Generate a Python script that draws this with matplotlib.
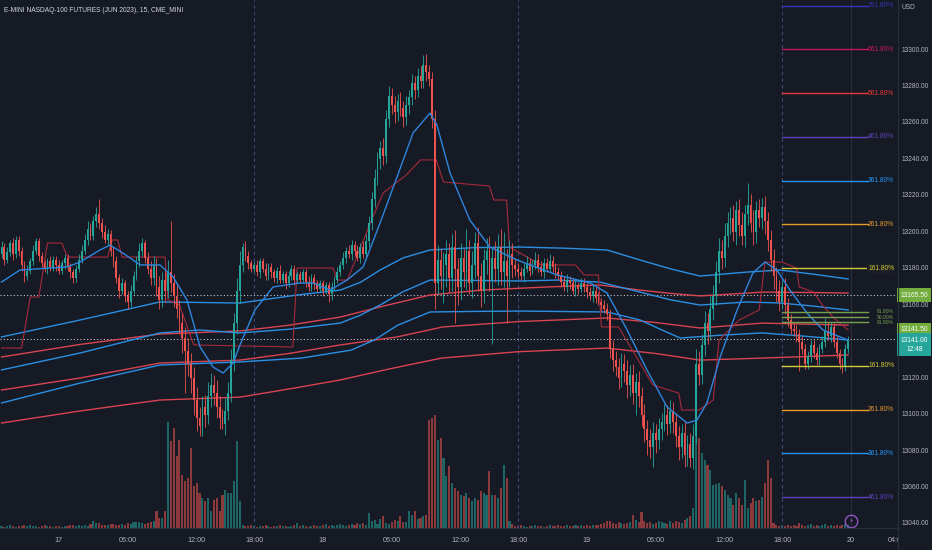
import numpy as np
import matplotlib
matplotlib.use("Agg")
import matplotlib.pyplot as plt
from matplotlib import transforms
from matplotlib.lines import Line2D

BG = "#161a25"
TXT = "#b2b5be"
UP = "#26a69a"
DN = "#ef5350"
BLUE = "#2b8fe3"
RED = "#d84452"
plt.rcParams['font.family'] = ['Liberation Sans', 'DejaVu Sans']

title = "E-MINI NASDAQ-100 FUTURES (JUN 2023), 15, CME_MINI"

# ---- 15 min bars (bar index 0 = first visible bar) ----
first_open = 13188
closes = [
    13192, 13185, 13189, 13194, 13188, 13196, 13190,
    13182, 13176, 13179, 13184,
    13190, 13195, 13187, 13183,
    13180, 13184, 13181, 13185, 13182, 13179, 13183, 13186, 13181, 13178,
    13175, 13180, 13185,
    13190, 13196, 13202, 13198, 13206, 13210, 13205,
    13200, 13196, 13199, 13190,
    13184, 13175, 13168, 13172,
    13165, 13162, 13168, 13176,
    13184, 13190, 13194, 13186, 13180,
    13175, 13182, 13170, 13163, 13174, 13168, 13178,
    13172, 13165, 13158, 13150,
    13142, 13135, 13128, 13120,
    13108, 13098, 13094,
    13104, 13100, 13110, 13116, 13112, 13104,
    13098, 13095, 13102, 13112,
    13130, 13150, 13168, 13182,
    13192, 13187, 13183, 13180,
    13182, 13178, 13184, 13180, 13176, 13181, 13178,
    13175, 13179, 13174, 13177, 13172, 13176, 13180, 13174, 13177,
    13174, 13178, 13173, 13170, 13175, 13172, 13169,
    13172, 13168, 13171, 13166, 13170, 13174,
    13178, 13182, 13186, 13190,
    13188, 13193, 13190, 13186, 13192, 13188, 13195,
    13205, 13218, 13230, 13240,
    13246, 13242, 13262, 13275,
    13270, 13266, 13272, 13268, 13263, 13270, 13274,
    13282, 13278, 13286, 13283,
    13292, 13288, 13284, 13262,
    13172, 13185, 13176, 13182,
    13188, 13175, 13192, 13180, 13170, 13186, 13178, 13190, 13172, 13182, 13194, 13176, 13168,
    13185, 13190, 13174, 13186, 13180, 13192, 13178, 13184, 13176, 13188, 13182, 13180, 13178,
    13176, 13180, 13183, 13179, 13182, 13185, 13181, 13178, 13183, 13180, 13184, 13181, 13178, 13176,
    13173, 13170, 13174, 13172, 13168, 13171, 13169, 13172, 13170, 13167, 13165, 13168, 13164, 13162, 13160, 13158, 13155,
    13136, 13130, 13126,
    13120, 13128, 13124, 13116, 13122, 13112, 13118, 13110,
    13100, 13092, 13086, 13082, 13090, 13086,
    13092, 13096, 13100, 13095, 13102, 13096,
    13088, 13082, 13090, 13078, 13084, 13076, 13088,
    13128, 13122,
    13138, 13150, 13146, 13158, 13165,
    13178, 13190, 13186, 13198, 13205,
    13208, 13200, 13212, 13204, 13198, 13210, 13215, 13205, 13200, 13212, 13208,
    13214, 13206, 13196,
    13185, 13176, 13168, 13162,
    13170, 13160, 13152, 13147,
    13146, 13144, 13140,
    13136, 13128, 13132, 13138, 13134, 13130, 13136,
    13140, 13146, 13143, 13148, 13140, 13134, 13128, 13126, 13136, 13141,
]
wick_up = [
    3, 2, 3, 2, 3, 2, 2,
    2, 2, 3, 2,
    3, 2, 2, 2,
    2, 2, 3, 2, 2, 3, 2, 2, 2, 2,
    2, 2, 3,
    3, 3, 4, 3, 3, 4, 8,
    3, 4, 3, 2,
    2, 3, 2, 3,
    2, 3, 3, 3,
    3, 4, 3, 2, 3,
    4, 5, 4, 6, 4, 5, 7,
    28, 5, 6, 5,
    6, 6, 7, 6,
    6, 7, 6,
    6, 7, 8, 7, 6, 7,
    6, 5, 7, 6,
    6, 6, 7, 8,
    2, 3, 3, 2,
    2, 3, 2, 2, 3, 2, 2,
    2, 2, 3, 2, 2, 3, 2, 2, 2,
    2, 2, 2, 3, 2, 2, 2,
    2, 2, 2, 2, 3, 2,
    3, 2, 3, 2,
    3, 3, 2, 3, 2, 3, 4,
    4, 4, 5, 4,
    4, 6, 5, 5,
    4, 5, 4, 5, 4, 5, 4,
    5, 4, 4, 5,
    5, 6, 4, 4,
    5, 8, 6, 7,
    8, 6, 7, 9, 6, 8, 5, 12, 6, 8, 6, 9, 7,
    6, 7, 8, 6, 9, 7, 10, 16, 7, 8, 6, 4, 3,
    3, 3, 4, 3, 3, 4, 3, 3, 3, 3, 4, 3, 2, 3,
    3, 3, 3, 2, 3, 3, 2, 3, 3, 2, 3, 3, 2, 3, 2, 3, 3,
    3, 5, 5,
    5, 6, 5, 6, 5, 6, 5, 6,
    5, 6, 5, 6, 6, 5,
    6, 5, 6, 5, 6, 5,
    5, 6, 5, 6, 5, 6, 7,
    8, 7,
    6, 7, 6, 7, 6,
    6, 7, 6, 7, 6,
    6, 7, 5, 6, 7, 5, 12, 6, 7, 5, 6,
    5, 6, 5,
    5, 6, 5, 6,
    4, 5, 4, 3,
    3, 3, 3,
    3, 3, 3, 3, 3, 3, 3,
    3, 7, 5, 3, 2, 3, 2, 3, 3, 2,
]
wick_dn = [
    2, 3, 2, 2, 3, 2, 3,
    3, 3, 2, 2,
    2, 2, 3, 2,
    2, 3, 2, 2, 3, 2, 2, 3, 2, 3,
    3, 2, 2,
    2, 2, 3, 2, 2, 3, 3,
    3, 2, 3, 3,
    3, 3, 4, 2,
    3, 4, 3, 2,
    2, 3, 3, 3, 3,
    4, 4, 5, 5, 4, 6, 4,
    5, 6, 5, 6,
    8, 23, 7, 8,
    8, 7, 6,
    6, 7, 5, 6, 7, 6,
    6, 3, 6, 5,
    5, 6, 6, 7,
    4, 3, 3, 2,
    2, 2, 3, 2, 2, 2, 3,
    2, 3, 2, 2, 3, 2, 2, 3, 2,
    2, 2, 3, 2, 2, 3, 2,
    2, 3, 2, 4, 3, 2,
    2, 2, 2, 3,
    2, 3, 3, 2, 3, 2, 2,
    3, 4, 4, 4,
    5, 5, 4, 4,
    5, 6, 5, 4, 5, 4, 5,
    4, 5, 4, 4,
    4, 5, 4, 5,
    14, 6, 7, 15,
    12, 8, 7, 30, 10, 7, 8, 9, 6, 8, 7, 8, 9,
    7, 8, 6, 35, 7, 9, 7, 8, 26, 6, 7, 4, 3,
    2, 3, 2, 3, 2, 2, 3, 2, 3, 2, 2, 3, 3, 2,
    3, 2, 3, 3, 2, 3, 3, 2, 3, 3, 2, 3, 3, 2, 3, 2, 3,
    5, 6, 5,
    6, 5, 6, 7, 6, 6, 12, 6,
    6, 7, 8, 6, 11, 7,
    5, 6, 5, 6, 5, 6,
    6, 7, 6, 7, 6, 5, 6,
    4, 6,
    5, 6, 7, 5, 6,
    5, 6, 6, 5, 6,
    6, 5, 7, 6, 5, 6, 6, 5, 7, 6, 5,
    6, 7, 6,
    6, 7, 6, 5,
    4, 5, 4, 3,
    3, 4, 16,
    3, 3, 3, 3, 3, 3, 3,
    2, 3, 2, 3, 3, 3, 3, 3, 2, 2,
]
volume = [
    200, 100, 200, 300, 200, 100, 200, 200, 300, 200, 300, 200, 200, 100, 200, 300,
    200, 200, 100, 200, 200, 100, 200, 200, 300, 300, 200, 300, 200, 300, 200,
    400, 700, 500, 500, 300, 300, 300, 400, 400, 300, 300, 400, 300, 500, 400, 600,
    600, 600, 500, 400, 500, 600, 700,
    1700, 1000, 1000, 1700,
    10600, 8700, 10000, 7200, 8800, 5300, 4700, 5000, 8000, 4200, 4500, 3500, 3000,
    2700, 3000, 1700, 2800, 3000, 1700, 3300, 3800, 3500, 3500, 4700, 8700, 2700, 300, 200,
    200, 300, 200, 100, 200, 200, 300, 200, 100, 200, 200, 300, 200, 200, 100, 200,
    300, 500, 200, 300, 200, 100, 200, 300, 200, 200, 300, 400, 200, 300, 200, 300,
    400, 300, 200, 300, 400, 300, 500, 400, 500, 300,
    1500, 700, 800, 400, 900, 1200, 500, 400, 600, 800, 700, 1200, 600, 600, 1700,
    1300, 1700, 900, 1000, 1200, 1300,
    10800, 11000, 11300, 8800, 9000, 7000, 5200, 6200, 4500, 4000, 3700, 3300, 3200,
    3500, 3000, 2700, 3000, 2800, 3700, 3500, 3300, 5700, 3300, 3300, 3000, 4000,
    6300, 5000, 700, 400,
    200, 200, 300, 200, 100, 200, 200, 300, 200, 200, 100, 200, 300, 200, 200, 300,
    200, 200, 300, 200, 200, 300, 200, 300, 200, 300, 200, 300, 300,
    300, 400, 500, 700, 700, 500, 400, 600, 500, 400, 500, 600, 1300, 800, 600, 1600,
    700, 500, 600, 400, 500, 700, 600, 500, 400, 700, 500, 700, 600, 500, 800, 1000,
    1200, 2000,
    12500, 9000, 7500, 6800, 6300, 5800, 4300, 4400, 4500, 4200, 3800, 3300, 3000,
    2300, 3500, 3000, 2300, 4800, 2000, 2500, 3000, 2700, 2800, 3100, 4500, 6800, 5000,
    500, 300, 200, 300, 200, 300, 200, 300, 200, 500, 300, 200, 300, 400, 200, 300,
    200, 300, 400, 200, 300, 200, 300, 200, 300, 400, 300,
]
assert len(closes) == len(wick_up) == len(wick_dn) == len(volume), (
    len(closes), len(wick_up), len(wick_dn), len(volume))

# ---- indicator lines (bar index, price) ----
ema_bar = [0, 6.4, 22.8, 27.4, 34.3, 37.8, 42.3, 48.3, 55.2, 59.8, 64.6, 69.2, 73.7, 77.2,
           80.7, 83.1, 88.3, 94.6, 104, 108.5, 114.5, 120.4, 126, 131.9, 137.8, 143.4,
           149.3, 151.7, 156.3, 163.2, 170.2, 179.6, 193.6, 205.1, 211, 218, 224.9, 231.9,
           238.9, 242.3, 245.8, 250.4, 256.3, 261.8, 266, 270.2, 274.7, 280.7, 286.2,
           292.2, 295]
ema_val = [13172.7, 13179.3, 13181.0, 13183.7, 13190.3, 13193.0, 13188.6, 13182.1, 13182.1,
           13175.5, 13162.9, 13137.1, 13126.1, 13122.8, 13128.3, 13138.2, 13157.4, 13170.0,
           13172.2, 13172.2, 13168.3, 13173.8, 13181.0, 13205.1, 13230.3, 13254.5, 13265.4,
           13258.9, 13232.5, 13206.7, 13191.9, 13184.8, 13176.6, 13172.2, 13166.7, 13146.4,
           13124.5, 13104.2, 13095.4, 13097.0, 13106.4, 13131.6, 13157.4, 13177.7, 13183.7,
           13179.3, 13168.3, 13155.7, 13146.4, 13142.6, 13140.9]

blue_a_bar = [0, 27.4, 55.2, 83.1, 103, 118, 125, 131.9, 140, 149.3, 165, 180.7, 196, 211,
              222.5, 233, 243.4, 259.8, 271.3, 283, 295]
blue_a_val = [13142.6, 13151.9, 13161.8, 13161.2, 13165.6, 13168.3, 13172.5, 13179.3, 13186.0,
              13190.3, 13191.6, 13191.9, 13191.3, 13190.3, 13184.8, 13180.0, 13176.0, 13178.2,
              13179.3, 13177.0, 13174.4]
blue_b_bar = [0, 27.4, 55.2, 69, 83.1, 100, 118, 125, 131.9, 140, 149.3, 165, 180.7, 193.6,
              208.5, 222.5, 233, 243.4, 259.8, 271.3, 283, 295]
blue_b_val = [13124.5, 13133.8, 13144.8, 13146.4, 13144.8, 13146.8, 13150.2, 13154.5, 13160.1,
              13167.5, 13173.8, 13173.6, 13173.3, 13173.8, 13172.7, 13167.2, 13163.0, 13160.1,
              13161.8, 13161.2, 13159.5, 13157.4]
blue_c_bar = [0, 27.4, 55.2, 83.1, 104.5, 121.9, 130, 138, 149.3, 165, 180.7, 211, 222.5,
              230, 236.5, 250, 265, 280, 295]
blue_c_val = [13106.4, 13117.3, 13127.2, 13128.9, 13131.0, 13135.4, 13141.0, 13149.0, 13156.3,
              13156.6, 13156.8, 13156.3, 13151.9, 13146.5, 13142.0, 13143.5, 13144.8, 13143.0,
              13140.9]
red_a_bar = [0, 27.4, 55.2, 83.1, 100, 118, 133, 149.3, 167.2, 190, 208.5, 222.5, 233,
             243.4, 255, 265, 280, 295]
red_a_val = [13131.6, 13138.5, 13144.2, 13145.9, 13149.0, 13153.5, 13159.5, 13165.6, 13168.3,
             13170.0, 13171.1, 13168.3, 13166.5, 13165.1, 13166.2, 13167.2, 13167.0, 13166.7]
red_b_bar = [0, 27.4, 55.2, 83.1, 100, 118, 137.8, 153.8, 180, 211, 228, 243.4, 265, 295]
red_b_val = [13113.5, 13120.1, 13128.3, 13129.9, 13133.5, 13138.2, 13142.6, 13148.1, 13151.0,
             13153.0, 13150.5, 13147.5, 13150.2, 13149.1]
red_c_bar = [0, 27.4, 55.2, 83.1, 100, 118, 135, 153.3, 180, 211, 228, 243.4, 265, 295]
red_c_val = [13095.4, 13102.0, 13108.0, 13109.6, 13114.0, 13119.0, 13125.0, 13131.0, 13134.5,
             13136.5, 13133.5, 13129.9, 13131.0, 13132.7]

step_bar = [0, 7, 10, 13, 16, 21, 23, 37, 38.5, 40.5, 42, 57, 58, 62, 67, 101.5, 103, 115.5,
            117, 120.5, 128.5, 133, 141, 146, 151.5, 154, 170, 171.5, 176, 177, 188, 200,
            203, 208, 209, 215, 227, 236, 237, 243, 248, 250, 257, 264, 266, 272, 277, 278,
            283, 286, 290, 295]
step_val = [13136.5, 13136.5, 13164.5, 13164.5, 13194.1, 13194.1, 13186.4, 13186.4, 13195.8,
            13195.8, 13186.4, 13186.4, 13162.9, 13160.1, 13138.2, 13137.1, 13180.4, 13180.4,
            13173.8, 13173.8, 13205.1, 13221.6, 13231.4, 13239.7, 13239.7, 13227.6, 13225.4,
            13217.7, 13217.7, 13191.9, 13182.1, 13182.1, 13176.6, 13176.6, 13148.1, 13148.1,
            13116.2, 13111.8, 13102.5, 13102.5, 13108.0, 13140.9, 13151.9, 13157.4, 13183.7,
            13183.7, 13180.4, 13170.0, 13167.2, 13160.1, 13153.0, 13146.4]

# ---- fib extension tools ----
fib_low, fib_high = 13141.5, 13165.5
fib_up_levels = [0.5, 0.618, 1.618, 2.618, 3.618, 4.618, 5.618, 6.618, 7.618]
fib_dn_levels = [0.618, 1.618, 2.618, 3.618, 4.618]
fib_colors = {0.5: "#7f9f55", 0.618: "#73a04c", 1.618: "#d2cc3c", 2.618: "#e89a2c",
              3.618: "#2196f3", 4.618: "#5e42b8", 5.618: "#e53935", 6.618: "#c2185b",
              7.618: "#3535b5"}
fib_start, fib_end, fib_label_at = 272, 302, 311

last_close = 13141.0
tick_prices = [13040, 13060, 13080, 13100, 13120, 13160, 13180, 13200, 13220, 13240, 13260, 13280, 13300]
time_bars = [20, 44, 68, 88, 112, 136, 160, 180, 204, 228, 252, 272, 296, 312]
time_labels = ["17", "06:00", "12:00", "18:00", "18", "06:00", "12:00", "18:00",
               "19", "06:00", "12:00", "18:00", "20", "04:00"]
session_bars = [88, 180, 272]

W, H = 932, 550
fig = plt.figure(figsize=(W / 100, H / 100), dpi=100, facecolor=BG)
ylim = (13037.8, 13327.43)
xlim = (-0.523, 312.37)
pw = 898 / W
bot = 22 / H

ax_v = fig.add_axes([0, bot, pw, 1 - bot])
ax = fig.add_axes([0, bot, pw, 1 - bot])
ax_v.set_facecolor(BG)
ax.patch.set_visible(False)
for a in (ax, ax_v):
    a.set_xlim(*xlim)
    a.axis("off")
ax.set_ylim(*ylim)
ax_v.set_ylim(0, 52800)

c = np.array(closes, float)
o = np.concatenate([[first_open], c[:-1]])
hi = np.maximum(o, c) + np.array(wick_up)
lo = np.minimum(o, c) - np.array(wick_dn)
idx = np.arange(len(c))
col = np.where(c >= o, UP, DN)

# volume
ax_v.bar(idx, volume, width=0.72, color=col, alpha=0.55, lw=0)

# session separators and misc lines
for b in session_bars:
    ax.axvline(b, color="#3d4b7c", lw=0.8, ls=(0, (3, 3)), zorder=1)
ax.axvline(296, color="#2a2e39", lw=0.8, zorder=1)
for p in (fib_high, fib_low):
    ax.axhline(p, color="#c5c8ce", lw=0.8, ls=(0, (1, 2)), zorder=2)

# indicators
ax.plot(red_c_bar, red_c_val, color=RED, lw=1.0, zorder=3)
ax.plot(red_b_bar, red_b_val, color=RED, lw=1.0, zorder=3)
ax.plot(red_a_bar, red_a_val, color=RED, lw=1.0, zorder=3)
ax.plot(blue_c_bar, blue_c_val, color=BLUE, lw=1.0, zorder=3)
ax.plot(blue_b_bar, blue_b_val, color=BLUE, lw=1.0, zorder=3)
ax.plot(blue_a_bar, blue_a_val, color=BLUE, lw=1.0, zorder=3)
ax.plot(step_bar, step_val, color="#a52a3c", lw=0.8, zorder=3)

# candles
ax.vlines(idx, lo, hi, colors=col, lw=0.6, zorder=4)
body = np.where(np.abs(c - o) < 0.6, 0.6, c - o)
ax.bar(idx, body, bottom=o, width=0.62, color=col, lw=0, zorder=5)

ax.plot(ema_bar, ema_val, color="#2e86de", lw=1.0, zorder=6)

# fib levels
def fib_line(price, lvl, boxed=False):
    clr = fib_colors[lvl]
    ax.plot([fib_start, fib_end], [price, price], color=clr, lw=1.0, zorder=6)
    kw = {}
    if boxed:
        kw["bbox"] = dict(boxstyle="square,pad=0.15", fc="#1d1f24", ec="none")
    size = 3.6 if lvl < 1 else 4.8
    ax.text(fib_label_at, price, f"{lvl * 100:.2f}%", ha="right", va="center",
            fontsize=size, color=clr, zorder=7, **kw)

for lvl in fib_up_levels:
    fib_line(fib_low + lvl * (fib_high - fib_low), lvl, boxed=(lvl == 1.618))
for lvl in fib_dn_levels:
    fib_line(fib_high - lvl * (fib_high - fib_low), lvl)

# price scale
ax_p = fig.add_axes([pw, bot, 1 - pw, 1 - bot])
ax_p.set_facecolor(BG)
ax_p.set_ylim(*ylim)
ax_p.set_xlim(0, 1)
ax_p.axis("off")
for p in tick_prices:
    ax_p.text(0.1, p, f"{p:.2f}", ha="left", va="center", fontsize=4.8, color=TXT)

def price_tag(price, text, fc, dy):
    tr = transforms.offset_copy(ax_p.transData, fig=fig, x=0, y=dy, units="dots")
    ax_p.text(0.48, price, text, transform=tr, ha="center", va="center", fontsize=4.8,
              color="white", linespacing=1.5,
              bbox=dict(boxstyle="square,pad=0.5", fc=fc, ec="none"))

price_tag(fib_high, f"{fib_high:.2f}", "#72ad3d", 0)
price_tag(fib_low, f"{fib_low:.2f}", "#72ad3d", 9)
price_tag(last_close, f"{last_close:.2f}\n12:48", UP, -5)
ax_p.text(0.09, 0.985, "USD", transform=ax_p.transAxes, ha="left", va="center",
          fontsize=4.8, color=TXT)

# time scale
ax_t = fig.add_axes([0, 0, pw, bot])
ax_t.set_facecolor(BG)
ax_t.set_xlim(*xlim)
ax_t.set_ylim(0, 1)
ax_t.axis("off")
for b, lab in zip(time_bars, time_labels):
    ax_t.text(b, 0.45, lab, ha="center", va="center", fontsize=5.2, color=TXT, clip_on=True)

# borders
fig.add_artist(Line2D([pw, pw], [0, 1], color="#2a2e39", lw=0.8))
fig.add_artist(Line2D([0, pw], [bot, bot], color="#2a2e39", lw=0.8))

# alert icon at the last bar
tr_icon = transforms.blended_transform_factory(ax.transData, ax.transAxes)
ax.plot([len(c)], [0.013], transform=tr_icon, marker="o", ms=9, mfc="none",
        mec="#9b59d0", mew=0.9, zorder=8, clip_on=False)
ax.text(len(c), 0.013, "\u26a1", transform=tr_icon, ha="center", va="center",
        fontsize=5, color="#9b59d0", zorder=8, family="DejaVu Sans")

fig.text(4 / W, 1 - 10 / H, title, ha="left", va="center", fontsize=4.8, color="#d1d4dc")

fig.savefig("out.png", dpi=100, facecolor=BG)
